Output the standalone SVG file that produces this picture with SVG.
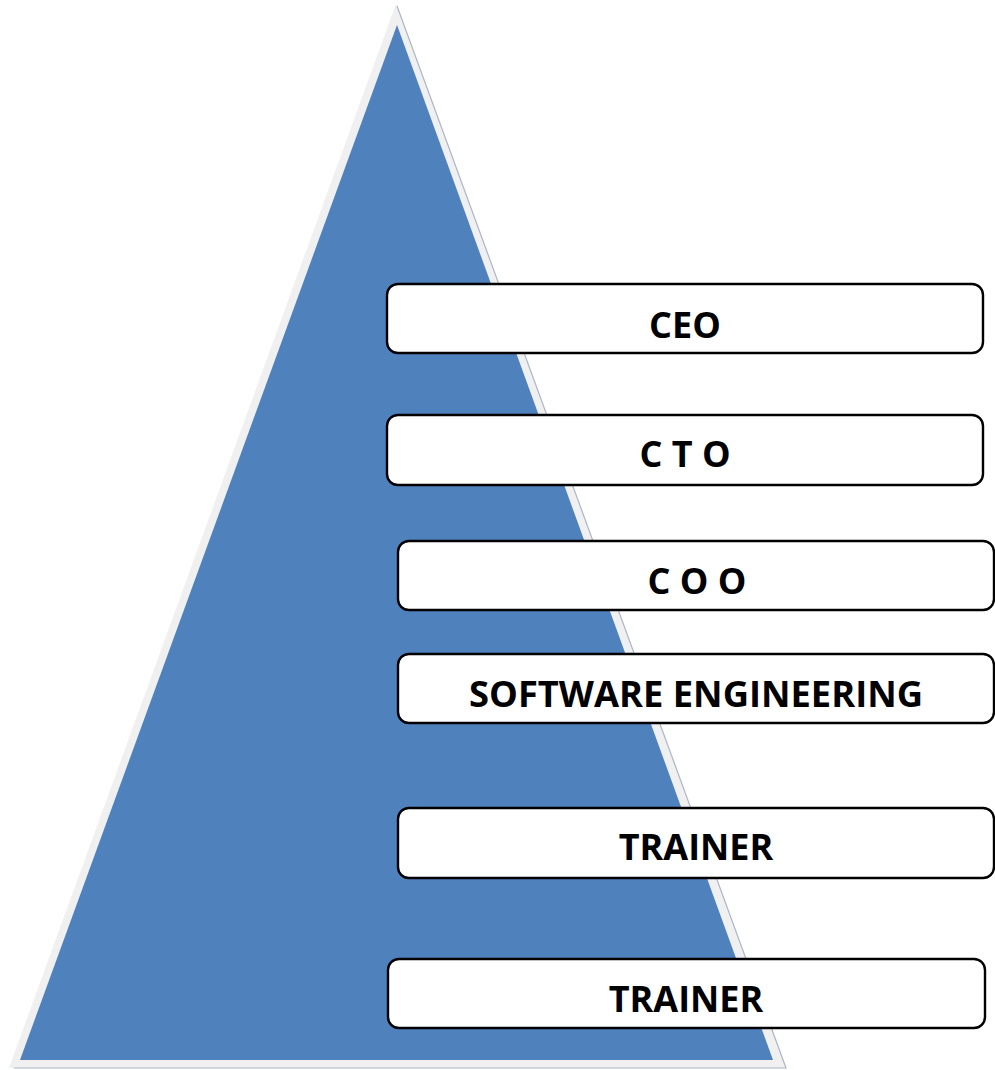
<svg xmlns="http://www.w3.org/2000/svg" width="995" height="1070" viewBox="0 0 995 1070">
<style>
.box{fill:#ffffff;stroke:#000000;stroke-width:2.4}
.lbl{font-family:"Open Sans","Liberation Sans",sans-serif;font-weight:bold;font-size:36px;fill:#000000;text-anchor:middle}
</style>
<rect width="995" height="1070" fill="#ffffff"/>
<g id="pyramid">
<polygon points="396,4 9,1068 786,1068" fill="#f0f0f0"/>
<polyline points="397,6 786,1068 14,1068" fill="none" stroke="#aab6c8" stroke-width="1.2"/>
<polygon points="397,25 20,1060 773,1060" fill="#4f81bd"/>
</g>
<g id="connectors"></g>
<g id="node-ceo">
<rect class="box" x="387" y="284" width="596" height="69" rx="11"/>
<text class="lbl" x="685" y="338">CEO</text>
</g>
<g id="node-cto">
<rect class="box" x="387" y="415" width="596" height="70" rx="11"/>
<text class="lbl" x="685" y="467">C T O</text>
</g>
<g id="node-coo">
<rect class="box" x="398" y="541" width="596" height="69" rx="11"/>
<text class="lbl" x="697" y="594">C O O</text>
</g>
<g id="node-software">
<rect class="box" x="398" y="654" width="596" height="69" rx="11"/>
<text class="lbl" x="696" y="707" textLength="454" lengthAdjust="spacingAndGlyphs">SOFTWARE ENGINEERING</text>
</g>
<g id="node-trainer1">
<rect class="box" x="398" y="808" width="596" height="70" rx="11"/>
<text class="lbl" x="696" y="860">TRAINER</text>
</g>
<g id="node-trainer2">
<rect class="box" x="388" y="959" width="597" height="69" rx="11"/>
<text class="lbl" x="686" y="1012">TRAINER</text>
</g>
</svg>
